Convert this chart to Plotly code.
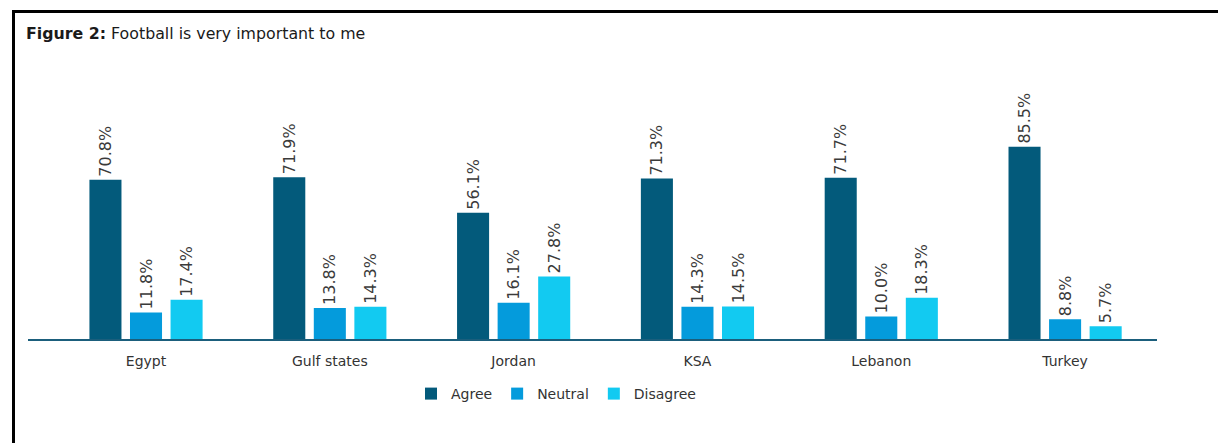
import plotly.graph_objects as go

# Survey results: share of respondents per answer, by country/region
countries = ["Egypt", "Gulf states", "Jordan", "KSA", "Lebanon", "Turkey"]
agree = [70.8, 71.9, 56.1, 71.3, 71.7, 85.5]
neutral = [11.8, 13.8, 16.1, 14.3, 10.0, 8.8]
disagree = [17.4, 14.3, 27.8, 14.5, 18.3, 5.7]

series = [
    ("Agree", agree, "#035a7b"),
    ("Neutral", neutral, "#049bdc"),
    ("Disagree", disagree, "#12caf1"),
]

FONT = "Verdana, DejaVu Sans, sans-serif"
W, H = 1218, 443
ML, MR, MT, MB = 28, 61, 114, 104
PW, PH = W - ML - MR, H - MT - MB


def px_x(p):
    return (p - ML) / PW


def px_y(p):
    return (H - MB - p) / PH


fig = go.Figure()
for name, vals, color in series:
    fig.add_trace(go.Bar(
        name=name,
        x=countries,
        y=vals,
        marker=dict(color=color, line=dict(width=0)),
        texttemplate="%{y:.1f}%",
        textposition="outside",
        textangle=-90,
        constraintext="none",
        cliponaxis=False,
        textfont=dict(family=FONT, size=16, color="#3a3a3a"),
    ))

# Frame lines: left and top edges of the figure box
frame = dict(type="line", xref="paper", yref="paper",
             line=dict(color="#000000", width=3))
fig.add_shape(**frame, x0=px_x(13.5), x1=px_x(13.5), y0=px_y(10), y1=px_y(443))
fig.add_shape(**frame, x0=px_x(12), x1=px_x(1218), y0=px_y(11.5), y1=px_y(11.5))

fig.update_layout(
    width=W,
    height=H,
    margin=dict(l=ML, r=MR, t=MT, b=MB),
    paper_bgcolor="white",
    plot_bgcolor="white",
    barmode="group",
    bargap=0.338,
    bargroupgap=0.21,
    font=dict(family=FONT, size=14, color="#333333"),
    title=dict(
        text="<b>Figure 2:</b> Football is very important to me",
        x=26 / W, xref="container", xanchor="left",
        y=1 - 33 / H, yref="container", yanchor="middle",
        font=dict(family=FONT, size=15.8, color="#1a1a1a"),
    ),
    xaxis=dict(
        range=[-0.642, 5.5],
        showline=True, linecolor="#1b5e7c", linewidth=2,
        showgrid=False, zeroline=False,
        ticks="outside", ticklen=8, tickcolor="rgba(0,0,0,0)",
        tickfont=dict(family=FONT, size=14, color="#333333"),
    ),
    yaxis=dict(range=[0, 100], visible=False),
    legend=dict(
        orientation="h",
        x=px_x(556), xanchor="center",
        y=px_y(394), yanchor="middle",
        font=dict(family=FONT, size=14, color="#333333"),
        itemwidth=30,
        traceorder="normal",
    ),
    showlegend=True,
)

fig.write_html("out.html")
